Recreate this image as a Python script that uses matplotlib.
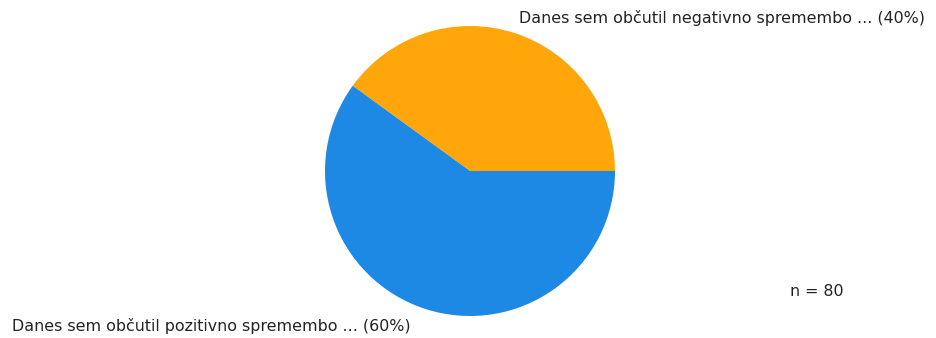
import matplotlib
matplotlib.use('Agg')
import matplotlib.pyplot as plt

# Data
labels = ['Danes sem občutil negativno spremembo ...',
          'Danes sem občutil pozitivno spremembo ...']
shares = [40, 60]
colors = ['#FFA70A', '#1E88E5']
n_total = 80

W, H = 937, 338
fig = plt.figure(figsize=(W / 100, H / 100), dpi=100)

# pie box in pixels: left, top, size
px_l, px_t, px_s = 325, 26, 290
ax = fig.add_axes([px_l / W, (H - px_t - px_s) / H, px_s / W, px_s / H])
ax.pie(shares, colors=colors, startangle=0, counterclock=True,
       wedgeprops=dict(linewidth=0))
ax.set_xlim(-1, 1)
ax.set_ylim(-1, 1)
ax.set_aspect('equal')
ax.axis('off')

fs = 11.4
# slice labels
fig.text(519 / W, 1 - 18 / H, f'{labels[0]} ({shares[0]}%)',
         ha='left', va='center', fontsize=fs, color='#222222')
fig.text(12 / W, 1 - 326 / H, f'{labels[1]} ({shares[1]}%)',
         ha='left', va='center', fontsize=fs, color='#222222')
fig.text(790 / W, 1 - 292 / H, f'n = {n_total}',
         ha='left', va='center', fontsize=fs, color='#222222')

fig.savefig('out.png', dpi=100)
